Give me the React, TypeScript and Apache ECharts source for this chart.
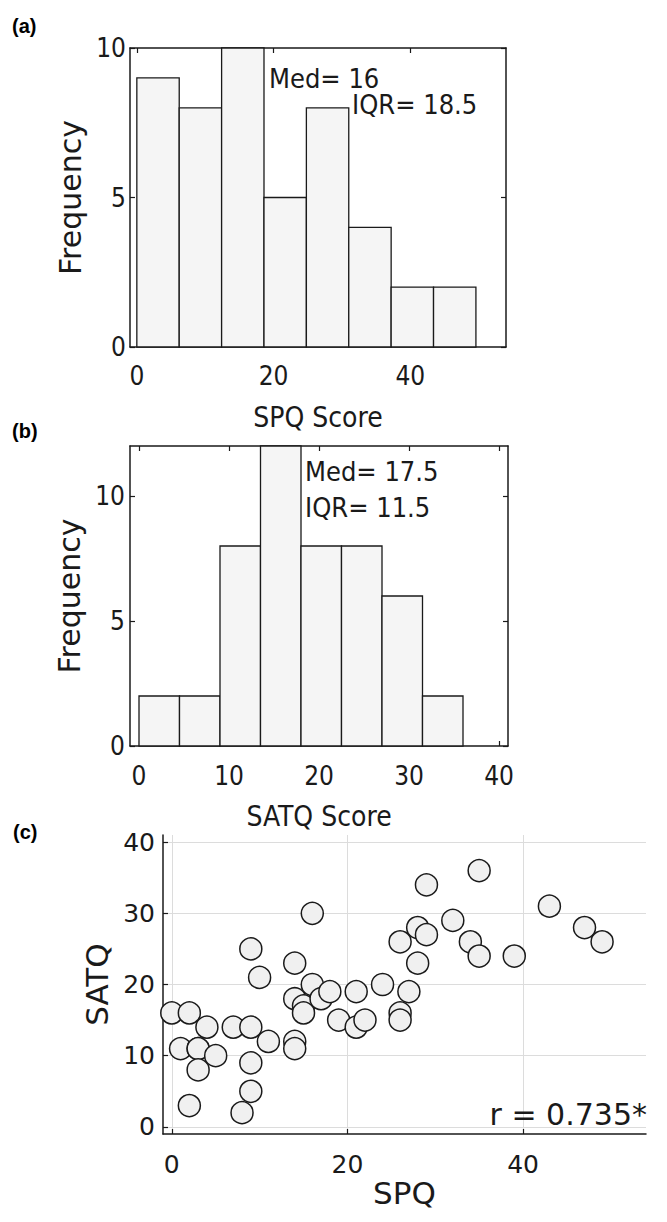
import React, { useEffect, useRef } from "react";
import * as echarts from "echarts";

// SPQ histogram: bin edges and counts
const spqBinEdges = [0, 6.2, 12.4, 18.6, 24.8, 31, 37.2, 43.4, 49.6];
const spqCounts = [9, 8, 10, 5, 8, 4, 2, 2];

// SATQ histogram: bin edges and counts
const satqBinEdges = [0, 4.5, 9, 13.5, 18, 22.5, 27, 31.5, 36];
const satqCounts = [2, 2, 8, 12, 8, 8, 6, 2];

// Per-participant scores (SPQ vs SATQ)
const spqScores = [
  0, 1, 2, 2, 3, 3, 3, 4, 5, 7, 8, 9, 9, 9, 9, 10, 11, 14, 14, 14, 14, 15, 15, 16,
  16, 17, 18, 19, 21, 21, 22, 24, 26, 26, 26, 27, 28, 28, 29, 29, 32, 34, 35, 35, 39,
  43, 47, 49,
];
const satqScores = [
  16, 11, 16, 3, 11, 11, 8, 14, 10, 14, 2, 25, 14, 9, 5, 21, 12, 23, 18, 12, 11, 17,
  16, 30, 20, 18, 19, 15, 19, 14, 15, 20, 26, 16, 15, 19, 28, 23, 34, 27, 29, 26, 36,
  24, 24, 31, 28, 26,
];

// Tick values
const spqTicks = [0, 20, 40];
const satqHistTicks = [0, 10, 20, 30, 40];
const freqTicks = [0, 5, 10];
const satqTicks = [0, 10, 20, 30, 40];

const SANS = "'DejaVu Sans', sans-serif";
const COND = "'DejaVu Sans Condensed', 'DejaVu Sans', sans-serif";
const BOLD = "'Liberation Sans', Arial, sans-serif";
const INK = "#1a1a1a";

function histData(edges: number[], counts: number[]) {
  return counts.map((c, i) => [edges[i], edges[i + 1], c]);
}

function histRender(params: any, api: any) {
  const p0 = api.coord([api.value(0), 0]);
  const p1 = api.coord([api.value(1), api.value(2)]);
  return {
    type: "rect",
    shape: { x: p0[0], y: p1[1], width: p1[0] - p0[0], height: p0[1] - p1[1] },
    style: { fill: "#f5f5f5", stroke: INK, lineWidth: 1.3 },
  };
}

function axis(opts: any) {
  const { grid, position, min, max, ticks, labels, font, size, margin, name, nameGap, nameSize, nameFont, split } = opts;
  return {
    type: "value",
    gridIndex: grid,
    position,
    min,
    max,
    name: name || "",
    nameLocation: "middle",
    nameGap: nameGap || 0,
    nameTextStyle: { fontFamily: nameFont || font, fontSize: nameSize, color: INK },
    axisLine: { show: true, onZero: false, lineStyle: { color: INK, width: 1.5 } },
    axisTick: { show: true, inside: true, length: 5, customValues: ticks, lineStyle: { color: INK, width: 1.2 } },
    axisLabel: {
      show: !!labels,
      customValues: ticks,
      fontFamily: font,
      fontSize: size,
      color: INK,
      margin,
    },
    splitLine: { show: !!split, lineStyle: { color: "#dcdcdc", width: 1 } },
  };
}

function note(text: string, x: number, y: number, font: string, size: number, align = "left") {
  return {
    type: "text",
    x,
    y,
    z: 10,
    style: { text, fontFamily: font, fontSize: size, fill: INK, align, verticalAlign: "middle" },
  };
}

function panelTag(text: string, left: number, top: number) {
  return {
    type: "text",
    left,
    top,
    style: { text, fontFamily: BOLD, fontWeight: "bold", fontSize: 20, fill: "#000" },
  };
}

export default function App() {
  const ref = useRef<HTMLDivElement>(null);

  useEffect(() => {
    document.body.style.margin = "0";
    if (!ref.current) return;
    const chart = echarts.init(ref.current, null, { renderer: "svg" });

    const option: any = {
      animation: false,
      backgroundColor: "#ffffff",
      grid: [
        { left: 130, top: 48, width: 376, height: 299 },
        { left: 130, top: 446, width: 378, height: 300 },
        { left: 163, top: 835, width: 483, height: 299 },
      ],
      xAxis: [
        axis({ grid: 0, position: "bottom", min: -1, max: 54, ticks: spqTicks, labels: true, font: COND, size: 26, margin: 16, name: "SPQ Score", nameGap: 56, nameSize: 28 }),
        axis({ grid: 0, position: "top", min: -1, max: 54, ticks: spqTicks, labels: false }),
        axis({ grid: 1, position: "bottom", min: -1, max: 41, ticks: satqHistTicks, labels: true, font: COND, size: 26, margin: 17, name: "SATQ Score", nameGap: 56, nameSize: 28 }),
        axis({ grid: 1, position: "top", min: -1, max: 41, ticks: satqHistTicks, labels: false }),
        axis({ grid: 2, position: "bottom", min: -1, max: 54, ticks: spqTicks, labels: true, font: SANS, size: 25, margin: 18, name: "SPQ", nameGap: 41, nameSize: 31, split: true }),
      ],
      yAxis: [
        axis({ grid: 0, position: "left", min: 0, max: 10, ticks: freqTicks, labels: true, font: COND, size: 26, margin: 4, name: "Frequency", nameGap: 32, nameSize: 30, nameFont: SANS }),
        axis({ grid: 0, position: "right", min: 0, max: 10, ticks: freqTicks, labels: false }),
        axis({ grid: 1, position: "left", min: 0, max: 12, ticks: freqTicks, labels: true, font: COND, size: 26, margin: 5, name: "Frequency", nameGap: 32, nameSize: 30, nameFont: SANS }),
        axis({ grid: 1, position: "right", min: 0, max: 12, ticks: freqTicks, labels: false }),
        axis({ grid: 2, position: "left", min: -1, max: 41, ticks: satqTicks, labels: true, font: SANS, size: 25, margin: 8, name: "SATQ", nameGap: 51, nameSize: 31, split: true }),
      ],
      series: [
        {
          type: "custom",
          name: "SPQ histogram",
          xAxisIndex: 0,
          yAxisIndex: 0,
          renderItem: histRender,
          encode: { x: [0, 1], y: 2 },
          data: histData(spqBinEdges, spqCounts),
          z: 3,
        },
        {
          type: "custom",
          name: "SATQ histogram",
          xAxisIndex: 2,
          yAxisIndex: 2,
          renderItem: histRender,
          encode: { x: [0, 1], y: 2 },
          data: histData(satqBinEdges, satqCounts),
          z: 3,
        },
        {
          type: "scatter",
          name: "SPQ vs SATQ",
          xAxisIndex: 4,
          yAxisIndex: 4,
          symbol: "circle",
          symbolSize: 22,
          itemStyle: { color: "#f0f0f0", borderColor: INK, borderWidth: 1.5, opacity: 1 },
          data: spqScores.map((s, i) => [s, satqScores[i]]),
          z: 3,
        },
      ],
      graphic: [
        panelTag("(a)", 12, 16),
        panelTag("(b)", 12, 421),
        panelTag("(c)", 13, 822),
        note("Med= 16", 269, 78, COND, 27),
        note("IQR= 18.5", 352, 104, COND, 27),
        note("Med= 17.5", 305, 471, COND, 27),
        note("IQR= 11.5", 305, 507, COND, 27),
        note("r = 0.735*", 647, 1114, SANS, 30, "right"),
      ],
    };

    chart.setOption(option);
    return () => chart.dispose();
  }, []);

  return (
    <div
      ref={ref}
      style={{ position: "absolute", left: 0, top: 0, width: 667, height: 1222, background: "#fff" }}
    />
  );
}
